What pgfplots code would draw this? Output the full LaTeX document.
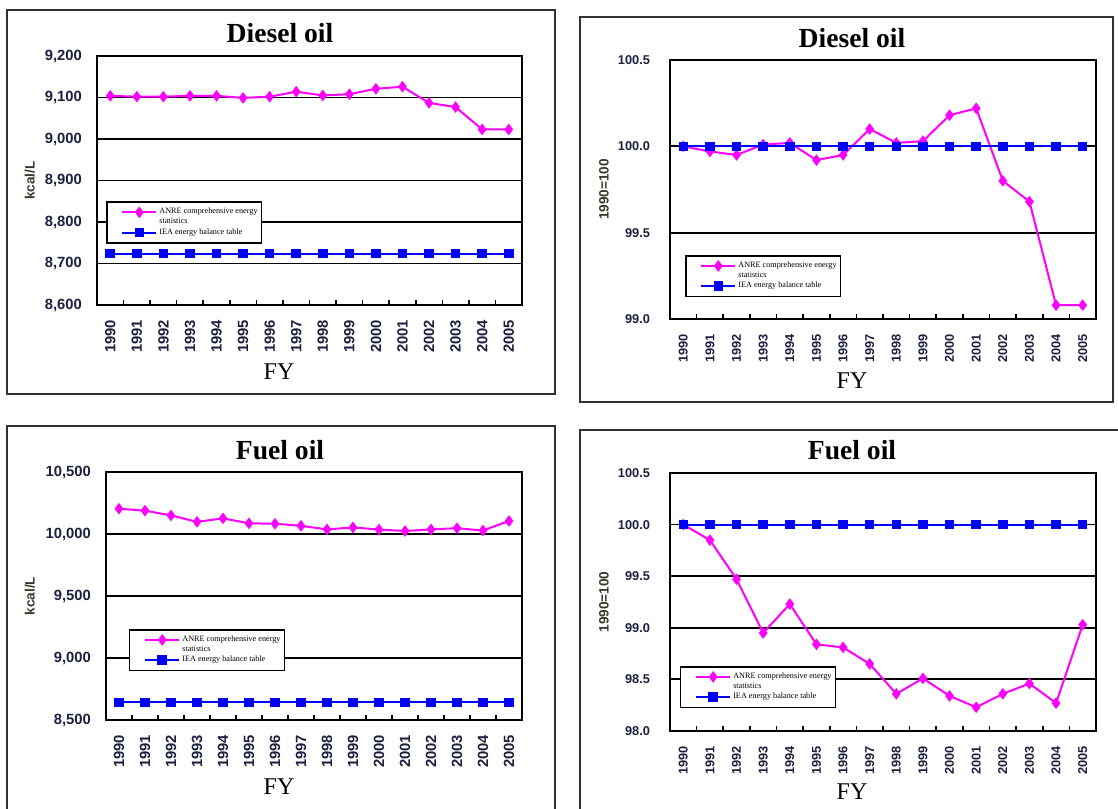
\documentclass[border=0pt]{standalone}
\usepackage{fontspec}
\setmainfont{Liberation Serif}
\setsansfont{Liberation Sans}
\usepackage{pgfplots}
\pgfplotsset{compat=1.18}
\definecolor{tickc}{RGB}{28,32,64}
\definecolor{labc}{RGB}{60,55,40}
\definecolor{anrec}{RGB}{255,0,255}
\definecolor{ieac}{RGB}{0,0,255}
\definecolor{framec}{RGB}{50,50,50}
\newcommand\tfL{\sffamily\bfseries\fontsize{7.4}{8}\selectfont}
\newcommand\tfR{\sffamily\bfseries\fontsize{6.4}{7}\selectfont}
\newcommand\ttl{\bfseries\fontsize{13.8}{15}\selectfont}
\newcommand\fyf{\fontsize{12}{13}\selectfont}
\pgfplotsset{
  panel/.style={
    scale only axis, anchor=south west,
    xmin=-0.5, xmax=15.5,
    xtick={0,...,15},
    xticklabels={1990,1991,1992,1993,1994,1995,1996,1997,1998,1999,2000,2001,2002,2003,2004,2005},
    xticklabel style={rotate=90, anchor=east, text=tickc},
    xticklabel shift=4pt,
    minor xtick={0.5,1.5,...,14.5},
    major tick length=0pt,
    minor tick length=2.5pt,
    tick align=inside,
    xtick pos=bottom, ytick pos=left,
    scaled y ticks=false,
    minor tick style={black, line width=0.8pt},
    ymajorgrids, major grid style={black, line width=0.9pt},
    yticklabel style={text=tickc},
    axis line style={black, line width=0.9pt},
    /pgf/number format/assume math mode=true,
    ylabel style={anchor=center, font=\sffamily\bfseries\fontsize{6.8}{8}\selectfont, text=labc},
    legend cell align=left,
    legend style={anchor=north west, fill=white, draw=black, line width=0.8pt,
       font=\fontsize{4.1}{4.6}\selectfont, row sep=0pt, inner xsep=1pt, inner ysep=2.5pt,
       nodes={inner ysep=0.4pt, inner xsep=1pt}},
    legend image code/.code={\path (0cm,0cm);\draw[##1, mark repeat=2, mark phase=2] plot coordinates {(0.22cm,0cm)(0.52cm,0cm)(0.82cm,0cm)};},
  },
  left panel/.style={panel, width=212.5pt,
    ticklabel style={font=\tfL}, yticklabel shift=4pt,
    /pgf/number format/.cd, fixed, 1000 sep={,}},
  right panel/.style={panel, width=213pt,
    ticklabel style={font=\tfR}, yticklabel shift=6.5pt, xticklabel shift=4pt,
    /pgf/number format/.cd, fixed, fixed zerofill, precision=1},
  sANRE/.style={anrec, line width=1pt, mark=diamond*, mark size=2.1pt, mark options={solid, fill=anrec}},
  sIEA/.style={ieac, line width=1pt, mark=square*, mark size=1.9pt, mark options={solid, fill=ieac}},
}
\begin{document}
\begin{tikzpicture}
\useasboundingbox (0,0) rectangle (559pt,404pt);
% frames
\draw[framec, line width=1pt] (3.5pt,207pt) rectangle (277.5pt,399pt);
\draw[framec, line width=1pt] (290pt,203pt) rectangle (556.5pt,395.5pt);
\draw[framec, line width=1pt] (3.5pt,-2pt) -- (3.5pt,191pt) -- (277.5pt,191pt) -- (277.5pt,-2pt);
\draw[framec, line width=1pt] (290pt,-2pt) -- (290pt,189pt) -- (562pt,189pt);

% Panel 1: Diesel oil kcal/L
\begin{axis}[left panel, at={(48.5pt,251.5pt)}, height=124.5pt,
  ymin=8600, ymax=9200, ytick={8600,8700,...,9200},
  ylabel={kcal/L}, ylabel style={at={(rel axis cs:-0.158,0.5)}},
  legend style={at={(rel axis cs:0.021,0.416)}}]
\addplot[sANRE] coordinates {(0,9104) (1,9102) (2,9102) (3,9104) (4,9104) (5,9099) (6,9102) (7,9114) (8,9105) (9,9108) (10,9121) (11,9126) (12,9087) (13,9077) (14,9023) (15,9023)};
\addlegendimage{empty legend}
\addplot[sIEA] coordinates {(0,8724) (1,8724) (2,8724) (3,8724) (4,8724) (5,8724) (6,8724) (7,8724) (8,8724) (9,8724) (10,8724) (11,8724) (12,8724) (13,8724) (14,8724) (15,8724)};
\legend{ANRE comprehensive energy, statistics, IEA energy balance table}
\end{axis}

% Panel 2: Diesel oil index
\begin{axis}[right panel, at={(335pt,244.5pt)}, height=129.5pt,
  ymin=99.0, ymax=100.5, ytick={99.0,99.5,100.0,100.5},
  ylabel={1990=100}, ylabel style={at={(rel axis cs:-0.155,0.5)}},
  legend style={at={(rel axis cs:0.035,0.247)}}]
\addplot[sANRE] coordinates {(0,100.00) (1,99.97) (2,99.95) (3,100.01) (4,100.02) (5,99.92) (6,99.95) (7,100.10) (8,100.02) (9,100.03) (10,100.18) (11,100.22) (12,99.80) (13,99.68) (14,99.08) (15,99.08)};
\addlegendimage{empty legend}
\addplot[sIEA] coordinates {(0,100) (1,100) (2,100) (3,100) (4,100) (5,100) (6,100) (7,100) (8,100) (9,100) (10,100) (11,100) (12,100) (13,100) (14,100) (15,100)};
\legend{ANRE comprehensive energy, statistics, IEA energy balance table}
\end{axis}

% Panel 3: Fuel oil kcal/L
\begin{axis}[left panel, at={(53pt,44pt)}, width=208pt, height=124pt,
  ymin=8500, ymax=10500, ytick={8500,9000,...,10500},
  ylabel={kcal/L}, ylabel style={at={(rel axis cs:-0.183,0.5)}},
  legend style={at={(rel axis cs:0.055,0.367)}}]
\addplot[sANRE] coordinates {(0,10204) (1,10188) (2,10150) (3,10098) (4,10126) (5,10086) (6,10083) (7,10066) (8,10037) (9,10053) (10,10036) (11,10024) (12,10037) (13,10047) (14,10028) (15,10105)};
\addlegendimage{empty legend}
\addplot[sIEA] coordinates {(0,8642) (1,8642) (2,8642) (3,8642) (4,8642) (5,8642) (6,8642) (7,8642) (8,8642) (9,8642) (10,8642) (11,8642) (12,8642) (13,8642) (14,8642) (15,8642)};
\legend{ANRE comprehensive energy, statistics, IEA energy balance table}
\end{axis}

% Panel 4: Fuel oil index
\begin{axis}[right panel, at={(335pt,38.5pt)}, height=129pt,
  ymin=98.0, ymax=100.5, ytick={98.0,98.5,99.0,99.5,100.0,100.5},
  ylabel={1990=100}, ylabel style={at={(rel axis cs:-0.155,0.5)}},
  legend style={at={(rel axis cs:0.023,0.252)}}]
\addplot[sANRE] coordinates {(0,100.00) (1,99.85) (2,99.47) (3,98.95) (4,99.23) (5,98.84) (6,98.81) (7,98.65) (8,98.36) (9,98.51) (10,98.34) (11,98.23) (12,98.36) (13,98.46) (14,98.27) (15,99.03)};
\addlegendimage{empty legend}
\addplot[sIEA] coordinates {(0,100) (1,100) (2,100) (3,100) (4,100) (5,100) (6,100) (7,100) (8,100) (9,100) (10,100) (11,100) (12,100) (13,100) (14,100) (15,100)};
\legend{ANRE comprehensive energy, statistics, IEA energy balance table}
\end{axis}

% titles and FY
\node[font=\ttl] at (140pt,387.5pt) {Diesel oil};
\node[font=\ttl] at (426pt,385pt) {Diesel oil};
\node[font=\ttl] at (140pt,179pt) {Fuel oil};
\node[font=\ttl] at (426pt,179pt) {Fuel oil};
\node[font=\fyf] at (139.5pt,218pt) {FY};
\node[font=\fyf] at (426pt,213.5pt) {FY};
\node[font=\fyf] at (139.5pt,10.5pt) {FY};
\node[font=\fyf] at (426pt,8pt) {FY};
\end{tikzpicture}
\end{document}
